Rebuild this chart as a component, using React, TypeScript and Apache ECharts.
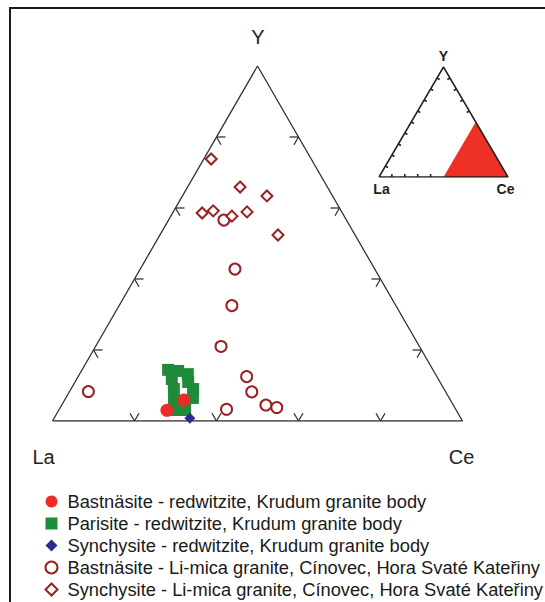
import React, { useEffect, useRef } from "react";
import * as echarts from "echarts";

const FONT = "'Liberation Sans', Arial, Helvetica, sans-serif";

const seriesNames = [
  "Bastnäsite - redwitzite, Krudum granite body",
  "Parisite - redwitzite, Krudum granite body",
  "Synchysite - redwitzite, Krudum granite body",
  "Bastnäsite - Li-mica granite, Cínovec, Hora Svaté Kateřiny",
  "Synchysite - Li-mica granite, Cínovec, Hora Svaté Kateřiny",
];

// compositions as [La, Ce, Y] in percent (of the plotted triangle)
const bastnasiteRedwitzite = [
  [70.7, 26.4, 3.0],
  [65.0, 29.1, 5.9],
];
const parisiteRedwitzite = [
  [64.7, 21.0, 14.4],
  [62.4, 23.6, 14.1],
  [60.3, 26.4, 13.2],
  [61.5, 27.6, 11.0],
  [64.9, 23.2, 11.8],
  [65.9, 25.1, 9.0],
  [67.4, 26.7, 5.9],
  [68.8, 28.1, 3.1],
  [61.2, 29.8, 9.0],
  [62.5, 31.0, 6.5],
  [66.1, 30.8, 3.1],
];
const synchysiteRedwitzite = [[66.0, 33.1, 0.8]];
const bastnasiteLiMica = [
  [29.9, 13.5, 56.6],
  [34.1, 23.1, 42.8],
  [40.0, 27.5, 32.5],
  [48.4, 30.6, 21.0],
  [46.4, 41.1, 12.5],
  [47.3, 44.5, 8.2],
  [45.7, 49.8, 4.5],
  [43.4, 52.8, 3.8],
  [55.9, 40.8, 3.3],
  [87.1, 4.6, 8.3],
];
const synchysiteLiMica = [
  [24.4, 1.8, 73.8],
  [21.3, 12.8, 65.9],
  [16.0, 20.6, 63.4],
  [34.2, 7.2, 58.6],
  [31.3, 9.6, 59.2],
  [27.4, 14.9, 57.7],
  [23.1, 18.0, 58.9],
  [18.8, 28.8, 52.4],
];

const apexLabels = ["La", "Ce", "Y"];
const tickFractions = [0.2, 0.4, 0.6, 0.8];
// inset: highlighted field (Ce >= 50 %), vertices [La, Ce, Y]
const insetField = [
  [50, 50, 0],
  [0, 100, 0],
  [0, 50, 50],
];
const insetLeftTicks = [0.1, 0.2, 0.3, 0.4, 0.5, 0.6, 0.7, 0.8, 0.9];
const insetRightTicks = [0.6, 0.7, 0.8, 0.9];
const insetBottomTicks = [0.1, 0.2, 0.3, 0.4];

// ternary -> cartesian (x = Ce + Y/2, y = Y), both 0..1
const toXY = (p: number[]) => [p[1] / 100 + p[2] / 200, p[2] / 100];

const OUTLINE = [
  [0, 0],
  [1, 0],
  [0.5, 1],
  [0, 0],
];

export default function App() {
  const ref = useRef<HTMLDivElement>(null);
  useEffect(() => {
    if (!ref.current) return;
    const chart = echarts.init(ref.current, undefined, { renderer: "svg" });

    const mainTicks: number[][] = [];
    tickFractions.forEach((f) => {
      mainTicks.push([f, 0, 60, 120]); // bottom edge
      mainTicks.push([f / 2, f, 0, -60]); // left edge
      mainTicks.push([1 - f / 2, f, 180, 240]); // right edge
    });

    const insetTicks: number[][] = [];
    insetLeftTicks.forEach((f) => insetTicks.push([f / 2, f, -30]));
    insetRightTicks.forEach((f) => insetTicks.push([1 - f / 2, f, 210]));
    insetBottomTicks.forEach((f) => insetTicks.push([f, 0, 90]));

    const darkRed = "#9a1f22";

    const option: any = {
      animation: false,
      backgroundColor: "#ffffff",
      textStyle: { fontFamily: FONT },
      grid: [
        { left: 52.5, top: 66, width: 410, height: 355 },
        { left: 379, top: 67, width: 129, height: 110 },
      ],
      xAxis: [
        { type: "value", min: 0, max: 1, show: false, gridIndex: 0 },
        { type: "value", min: 0, max: 1, show: false, gridIndex: 1 },
      ],
      yAxis: [
        { type: "value", min: 0, max: 1, show: false, gridIndex: 0 },
        { type: "value", min: 0, max: 1, show: false, gridIndex: 1 },
      ],
      legend: {
        data: seriesNames,
        orient: "vertical",
        left: 44.5,
        top: 492.5,
        padding: 0,
        itemWidth: 12,
        itemHeight: 12,
        itemGap: 4,
        textStyle: {
          fontFamily: FONT,
          fontSize: 18.3,
          color: "#1a1a1a",
          lineHeight: 18,
          padding: [0, 0, 0, 5],
        },
        selectedMode: false,
      },
      graphic: [
        {
          type: "rect",
          shape: { x: 10, y: 8, width: 700, height: 700 },
          style: { fill: "none", stroke: "#1b1b1b", lineWidth: 2 },
          silent: true,
        },
        {
          type: "text",
          x: 258,
          y: 37,
          style: { text: apexLabels[2], font: `20px ${FONT}`, fill: "#222", textAlign: "center", textVerticalAlign: "middle" },
        },
        {
          type: "text",
          x: 43.5,
          y: 457,
          style: { text: apexLabels[0], font: `20px ${FONT}`, fill: "#222", textAlign: "center", textVerticalAlign: "middle" },
        },
        {
          type: "text",
          x: 461.5,
          y: 457,
          style: { text: apexLabels[1], font: `20px ${FONT}`, fill: "#222", textAlign: "center", textVerticalAlign: "middle" },
        },
        {
          type: "text",
          x: 443.5,
          y: 56,
          style: { text: apexLabels[2], font: `bold 14px ${FONT}`, fill: "#222", textAlign: "center", textVerticalAlign: "middle" },
        },
        {
          type: "text",
          x: 381.5,
          y: 189,
          style: { text: apexLabels[0], font: `bold 14px ${FONT}`, fill: "#222", textAlign: "center", textVerticalAlign: "middle" },
        },
        {
          type: "text",
          x: 505.5,
          y: 189,
          style: { text: apexLabels[1], font: `bold 14px ${FONT}`, fill: "#222", textAlign: "center", textVerticalAlign: "middle" },
        },
      ],
      series: [
        {
          type: "line",
          name: "outline",
          xAxisIndex: 0,
          yAxisIndex: 0,
          data: OUTLINE,
          symbol: "none",
          lineStyle: { color: "#333", width: 1.3 },
          silent: true,
          z: 1,
        },
        {
          type: "custom",
          name: "ticks",
          xAxisIndex: 0,
          yAxisIndex: 0,
          data: mainTicks,
          silent: true,
          z: 1,
          renderItem: (params: any, api: any) => {
            const p = api.coord([api.value(0), api.value(1)]);
            const L = 9;
            const children = [api.value(2), api.value(3)].map((a: number) => {
              const r = (a * Math.PI) / 180;
              return {
                type: "line",
                shape: { x1: p[0], y1: p[1], x2: p[0] + L * Math.cos(r), y2: p[1] - L * Math.sin(r) },
                style: { stroke: "#333", lineWidth: 1.3 },
              };
            });
            return { type: "group", children };
          },
        },
        {
          type: "custom",
          name: "insetField",
          xAxisIndex: 1,
          yAxisIndex: 1,
          data: [[0]],
          silent: true,
          z: 1,
          renderItem: (params: any, api: any) => {
            const pts = insetField.map((v) => api.coord(toXY(v)));
            return { type: "polygon", shape: { points: pts }, style: { fill: "#ee3124", stroke: "none" } };
          },
        },
        {
          type: "line",
          name: "insetOutline",
          xAxisIndex: 1,
          yAxisIndex: 1,
          data: OUTLINE,
          symbol: "none",
          lineStyle: { color: "#222", width: 1.5 },
          silent: true,
          z: 2,
        },
        {
          type: "custom",
          name: "insetTicks",
          xAxisIndex: 1,
          yAxisIndex: 1,
          data: insetTicks,
          silent: true,
          z: 2,
          renderItem: (params: any, api: any) => {
            const p = api.coord([api.value(0), api.value(1)]);
            const r = (api.value(2) * Math.PI) / 180;
            const L = 3;
            return {
              type: "line",
              shape: { x1: p[0], y1: p[1], x2: p[0] + L * Math.cos(r), y2: p[1] - L * Math.sin(r) },
              style: { stroke: "#222", lineWidth: 1.6 },
            };
          },
        },
        {
          type: "scatter",
          name: seriesNames[1],
          xAxisIndex: 0,
          yAxisIndex: 0,
          data: parisiteRedwitzite.map(toXY),
          symbol: "rect",
          symbolSize: 12,
          itemStyle: { color: "#1f8a3a", opacity: 1 },
          z: 3,
        },
        {
          type: "scatter",
          name: seriesNames[0],
          xAxisIndex: 0,
          yAxisIndex: 0,
          data: bastnasiteRedwitzite.map(toXY),
          symbol: "circle",
          symbolSize: 13,
          itemStyle: { color: "#ee2a26", opacity: 1 },
          z: 4,
        },
        {
          type: "scatter",
          name: seriesNames[2],
          xAxisIndex: 0,
          yAxisIndex: 0,
          data: synchysiteRedwitzite.map(toXY),
          symbol: "diamond",
          symbolSize: 11,
          itemStyle: { color: "#2b2d8e", opacity: 1 },
          z: 5,
        },
        {
          type: "scatter",
          name: seriesNames[3],
          xAxisIndex: 0,
          yAxisIndex: 0,
          data: bastnasiteLiMica.map(toXY),
          symbol: "emptyCircle",
          symbolSize: 11,
          itemStyle: { color: darkRed, borderColor: darkRed, borderWidth: 1.6, opacity: 1 },
          z: 4,
        },
        {
          type: "scatter",
          name: seriesNames[4],
          xAxisIndex: 0,
          yAxisIndex: 0,
          data: synchysiteLiMica.map(toXY),
          symbol: "emptyDiamond",
          symbolSize: 11,
          itemStyle: { color: darkRed, borderColor: darkRed, borderWidth: 1.6, opacity: 1 },
          z: 4,
        },
      ],
    };
    chart.setOption(option);
    return () => chart.dispose();
  }, []);

  return (
    <div
      ref={ref}
      style={{ position: "fixed", left: 0, top: 0, width: 545, height: 660, background: "#fff" }}
    />
  );
}
